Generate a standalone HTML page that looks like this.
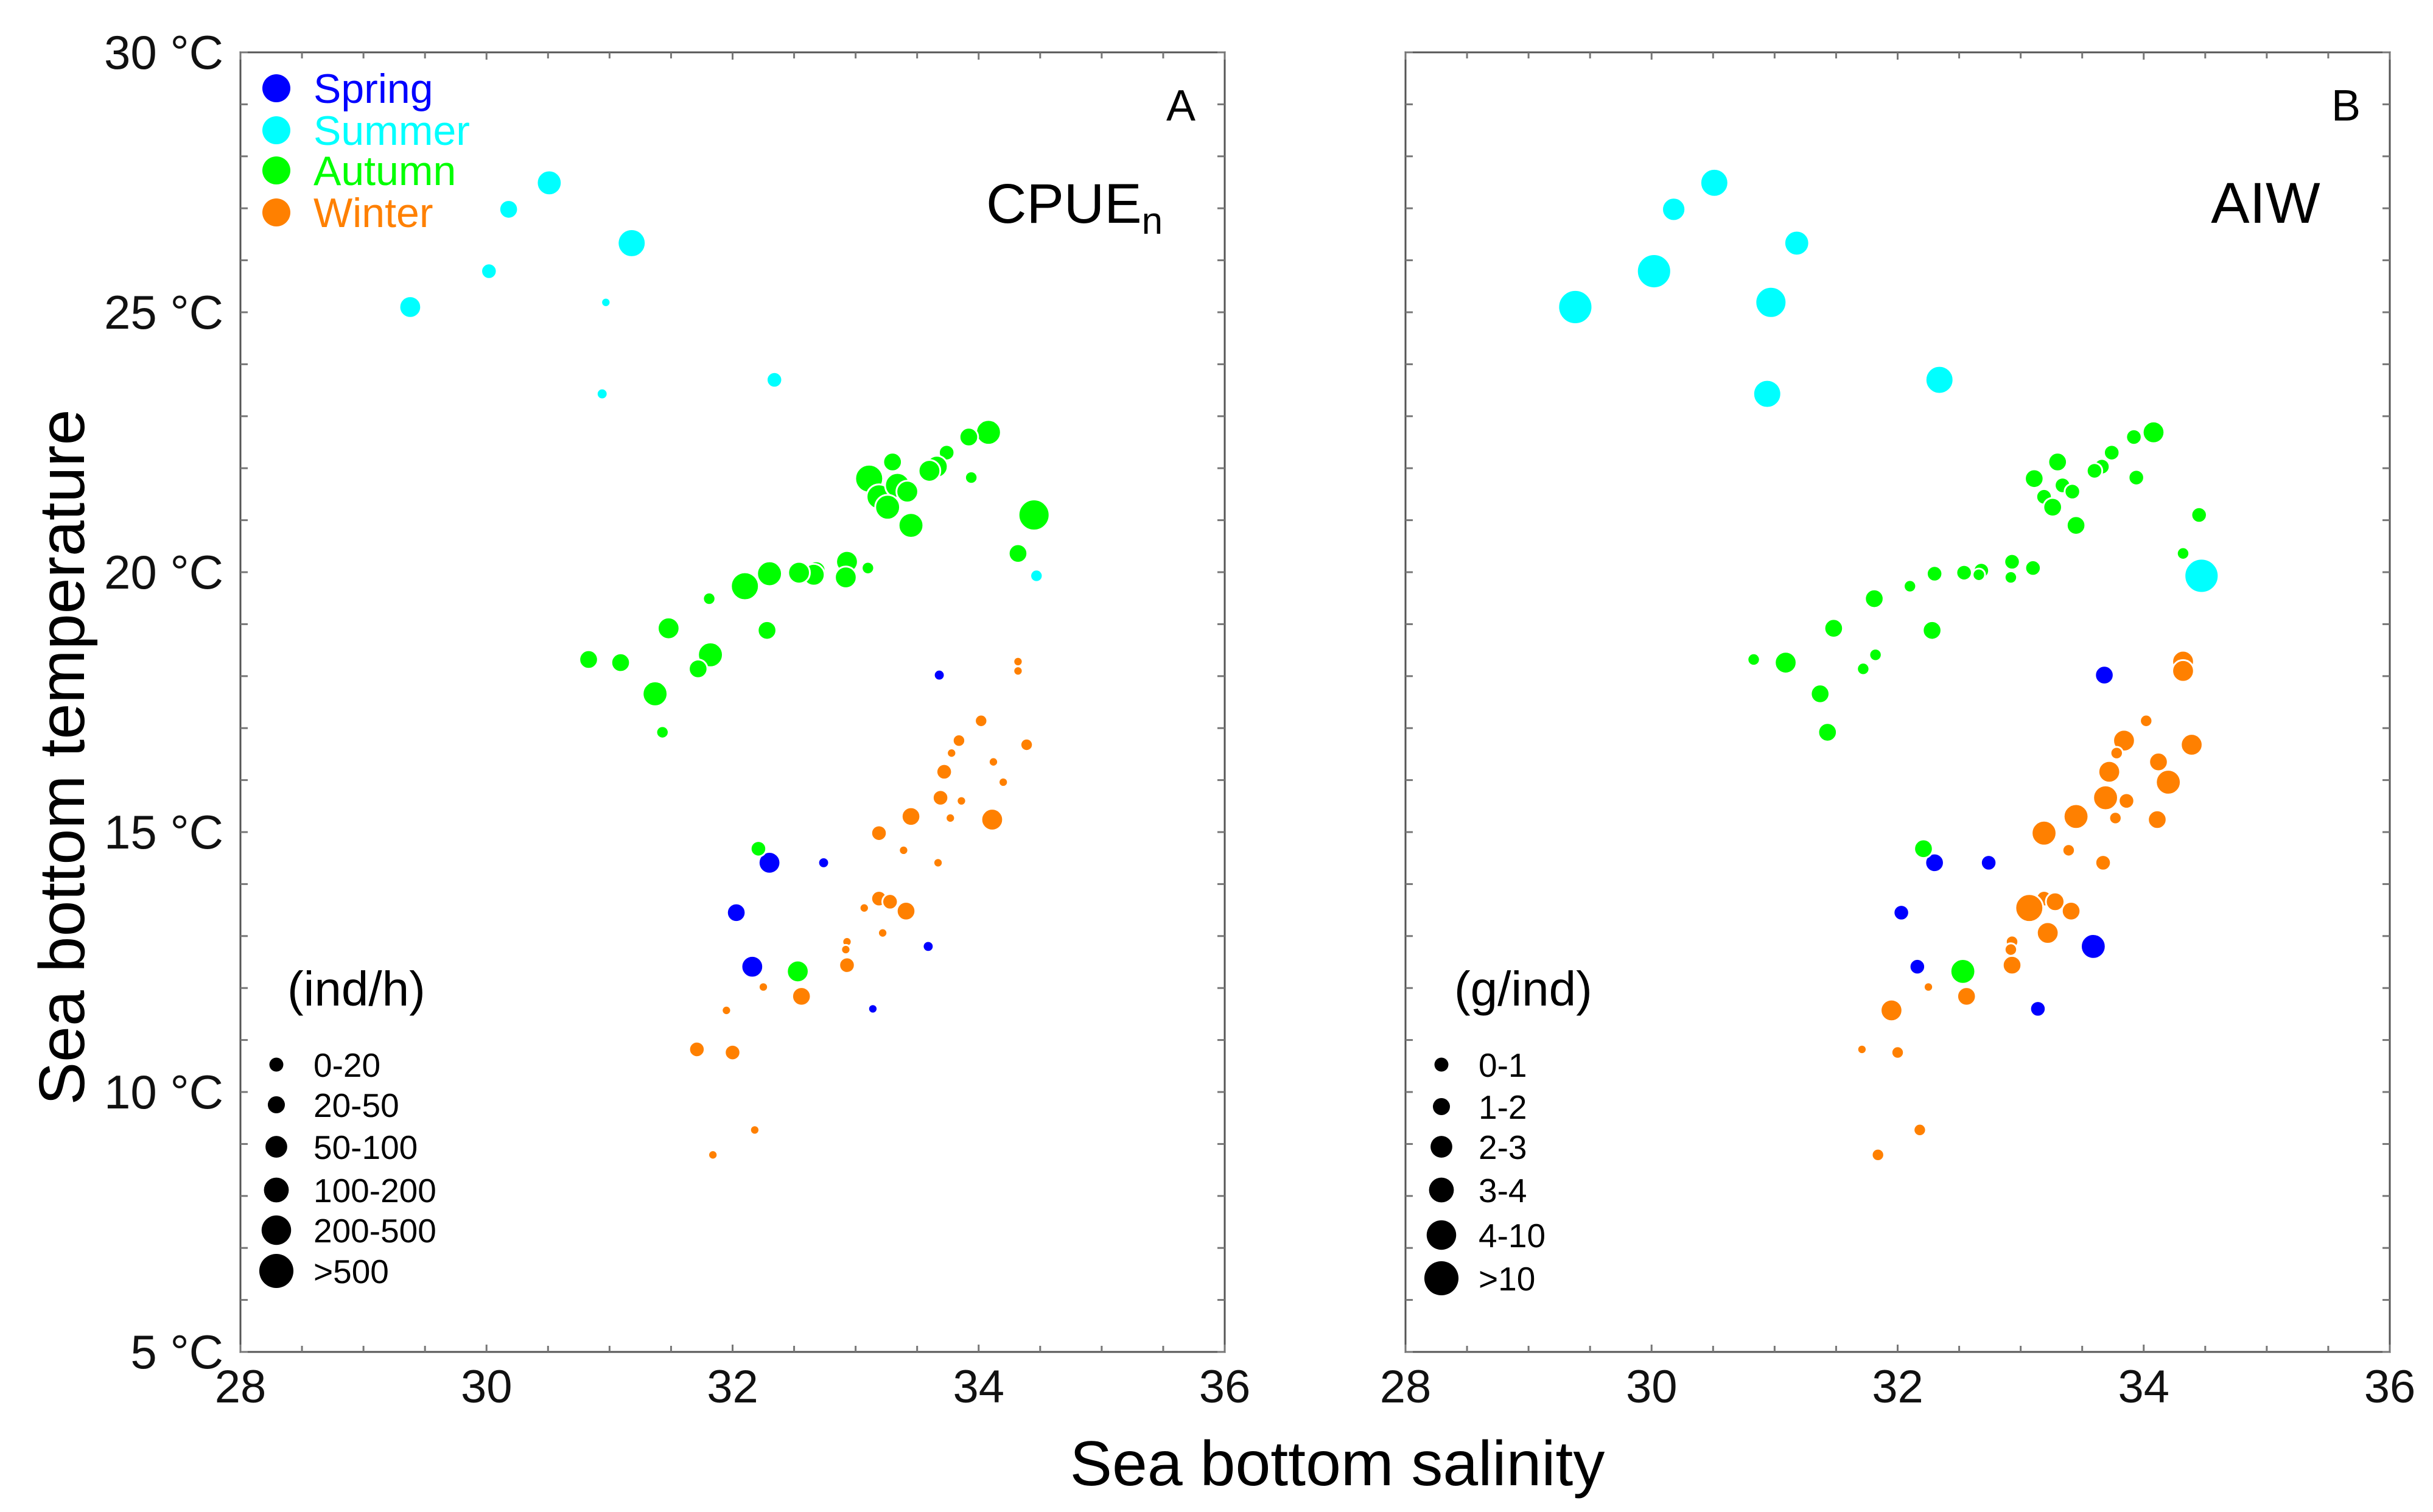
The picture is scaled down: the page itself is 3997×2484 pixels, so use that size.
<!DOCTYPE html>
<html><head><meta charset="utf-8"><style>
html,body{margin:0;padding:0;background:#fff}
svg{display:block;font-family:"Liberation Sans",sans-serif}
</style></head><body>
<svg id="chart" width="3997" height="2484" viewBox="0 0 3997 2484" xmlns="http://www.w3.org/2000/svg"></svg>
<script>
// ---- data (salinity, temperature, size class A, size class B) ----
const summerSal = [30.51,30.18,31.18,30.02,29.38,30.97,30.94,32.34,34.47];
const summerTmp = [27.49,26.98,26.33,25.79,25.10,25.19,23.43,23.70,19.93];
const summerSzA = [8,6,9,5,7,3,3.5,5,4];
const summerSzB = [9,7.5,8,11,11,10,9,9,11];

const autumnSal = [34.08,33.92,33.74,33.66,33.94,33.60,33.30,33.11,33.19,33.34,33.26,33.42,33.45,34.45,34.32,33.10,32.93,32.92,32.68,32.66,32.54,32.30,32.10,31.81,32.28,31.48,31.82,31.72,30.83,31.09,31.37,31.43,32.21,32.53];
const autumnTmp = [22.69,22.60,22.30,22.03,21.82,21.95,22.12,21.80,21.45,21.67,21.25,21.55,20.90,21.10,20.36,20.08,20.20,19.90,20.03,19.95,19.99,19.97,19.73,19.49,18.88,18.92,18.41,18.14,18.32,18.26,17.66,16.92,14.68,12.32];
const autumnSzA = [8,6,5,7,4,7,6,9,8,8,8,7,8,10,6,4,7,7,6,7,7,8,9,4,6,7,8,6,6,6,8,4,5,7];
const autumnSzB = [7,5,5,5,5,5,6,6,5,5,6,5,6,5,4,5,5,4,5,4,5,5,4,6,6,6,4,4,4,7,6,6,6,8];

const springSal = [33.68,32.30,32.74,32.03,32.16,33.59,33.14];
const springTmp = [18.02,14.41,14.41,13.45,12.41,12.80,11.60];
const springSzA = [3.5,7,3.5,6,7,3.5,3];
const springSzB = [6,6,5,5,5,8,5];

const winterSal = [34.32,34.32,34.02,33.84,33.78,34.39,33.72,34.12,34.20,33.69,33.86,33.77,34.11,33.45,33.19,33.39,33.67,33.19,33.28,33.07,33.41,33.22,32.93,32.92,32.93,32.25,32.56,31.95,31.71,32.00,32.18,31.84];
const winterTmp = [18.28,18.10,17.14,16.76,16.52,16.68,16.16,16.35,15.96,15.66,15.60,15.27,15.24,15.30,14.98,14.65,14.41,13.72,13.66,13.54,13.48,13.06,12.89,12.74,12.44,12.02,11.84,11.57,10.82,10.76,9.27,8.79];
const winterSzA = [3,3,4,4,3,4,5,3,3,5,3,3,7,6,5,3,3,5,5,3,6,3,3,3,5,3,6,3,5,5,3,3];
const winterSzB = [7,7,4,7,4,7,7,6,8,8,5,4,6,8,8,4,5,5,6,9,6,7,4,4,6,3,6,7,3,4,4,4];

const xTicks = [28,30,32,34,36];
const yTicks = [5,10,15,20,25,30];
const seasonNames = ["Spring","Summer","Autumn","Winter"];
const seasonColors = ["#0000ff","#00ffff","#00ff00","#ff8000"];
const legendA = ["0-20","20-50","50-100","100-200","200-500",">500"];
const legendB = ["0-1","1-2","2-3","3-4","4-10",">10"];
const legendR = [4.5,5.5,7,8,9.5,11];

const NS="http://www.w3.org/2000/svg";
const svg=document.getElementById('chart');
function el(t,a,p){const e=document.createElementNS(NS,t);for(const k in a)e.setAttribute(k,a[k]);(p||svg).appendChild(e);return e;}
const S=2.55;
const top_=86,bot=2221,pw=1617;
const panels=[{x0:395,label:"A",sz:"A"},{x0:2309,label:"B",sz:"B"}];
function sx(p,v){return p.x0+(v-28)/8*pw;}
function sy(v){return bot-(v-5)/25*(bot-top_);}

panels.forEach((p,pi)=>{
  const g=el('g',{});
  
  
  const fr=el('rect',{x:p.x0,y:top_,width:pw,height:bot-top_,fill:'none',stroke:'#555','stroke-width':3},g);
  
  
  for(let v=28;v<=36.001;v+=0.5){
    const x=sx(p,v);const L=(Math.abs(v-Math.round(v/2)*2)<1e-6)?12:10;
    el('line',{x1:x,y1:bot,x2:x,y2:bot-L,stroke:'#777','stroke-width':3},g);
    el('line',{x1:x,y1:top_,x2:x,y2:top_+L,stroke:'#777','stroke-width':3},g);
  }
  for(let v=5;v<=30;v++){
    const y=sy(v);
    el('line',{x1:p.x0,y1:y,x2:p.x0+12,y2:y,stroke:'#777','stroke-width':3},g);
    el('line',{x1:p.x0+pw,y1:y,x2:p.x0+pw-12,y2:y,stroke:'#777','stroke-width':3},g);
  }
  xTicks.forEach(v=>{
    const t=el('text',{x:sx(p,v),y:2304,'font-size':76,'text-anchor':'middle',fill:'#111'},g);
    t.textContent=v;
    
    
  });
  if(pi===0){
    yTicks.forEach(v=>{
      const t=el('text',{x:367,y:sy(v)+27,'font-size':78,'text-anchor':'end',fill:'#111'},g);
      t.textContent=v+" °C";
      
      
    });
  }
  const pl=el('text',{x:sx(p,36)-72,y:198,'font-size':72,'text-anchor':'middle',fill:'#000'},g);
  pl.textContent=p.label;
  
  
  if(pi===0){
    const t=el('text',{x:1620,y:366,'font-size':92,fill:'#000'},g);
    
    
    t.textContent='CPUE';
    const sub=el('tspan',{'font-size':62,dy:18},t);sub.textContent='n';
  } else {
    const t=el('text',{x:3722,y:366,'font-size':95,'text-anchor':'middle',fill:'#000'},g);
    t.textContent='AIW';
    
    
  }
  const series=[
    [springSal,springTmp,springSzA,springSzB,0],
    [summerSal,summerTmp,summerSzA,summerSzB,1],
    [autumnSal,autumnTmp,autumnSzA,autumnSzB,2],
    [winterSal,winterTmp,winterSzA,winterSzB,3]];
  series.forEach(s=>{
    const sz=p.sz==="A"?s[2]:s[3];
    s[0].forEach((v,i)=>{
      const c=el('circle',{cx:sx(p,v),cy:sy(s[1][i]),r:sz[i]*S,fill:seasonColors[s[4]],stroke:'#fff','stroke-width':3},g);
      
      
    });
  });
  const lx=pi===0?454:2368, tx=pi===0?515:2429;
  const ly=pi===0?[1749,1815,1884,1955,2021,2088]:[1749,1818,1884,1955,2029,2100];
  const labs=pi===0?legendA:legendB;
  const ut=el('text',{x:pi===0?472:2389,y:1652,'font-size':80,fill:'#000'},g);
  ut.textContent=pi===0?'(ind/h)':'(g/ind)';
  
  
  labs.forEach((l,i)=>{
    const c=el('circle',{cx:lx,cy:ly[i],r:legendR[i]*S,fill:'#000'},g);
    
    
    const t=el('text',{x:tx,y:ly[i]+20,'font-size':55,fill:'#000'},g);
    t.textContent=l;
    
    
  });
});
const lys=[145,214,280,349];
seasonNames.forEach((n,i)=>{
  const c=el('circle',{cx:454,cy:lys[i],r:23,fill:seasonColors[i]});
  
  
  const t=el('text',{x:515,y:lys[i]+24,'font-size':68,fill:seasonColors[i]});
  t.textContent=n;
  
  
});
const xt=el('text',{x:2197,y:2440,'font-size':104,'text-anchor':'middle',fill:'#000'});
xt.textContent='Sea bottom salinity';


const yt=el('text',{x:0,y:0,'font-size':106,'text-anchor':'middle',fill:'#000',transform:'translate(138,1244) rotate(-90)'});
yt.textContent='Sea bottom temperature';


</script>
</body></html>
